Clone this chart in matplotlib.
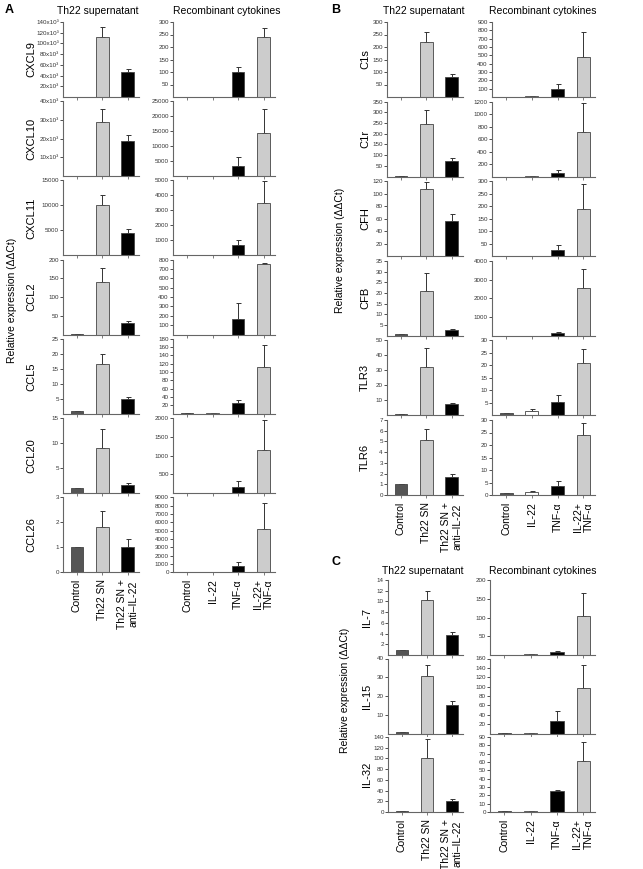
import matplotlib
matplotlib.use("Agg")
import matplotlib.pyplot as plt
from matplotlib.ticker import FuncFormatter

plt.rcParams['font.family'] = ['Liberation Sans', 'DejaVu Sans']

# categories
sn_labels = ["Control", "Th22 SN", "Th22 SN +\nanti\u2013IL-22"]
rec_labels = ["Control", "IL-22", "TNF-\u03b1", "IL-22+\nTNF-\u03b1"]
sn_colors = ["#555555", "#cccccc", "#000000"]
rec_colors = ["#555555", "#ffffff", "#000000", "#cccccc"]

# panel A
a_genes = ["CXCL9", "CXCL10", "CXCL11", "CCL2", "CCL5", "CCL20", "CCL26"]
a_sn_mean = [[1, 112000, 46000], [1, 29000, 19000], [1, 10100, 4400], [1, 141, 32],
             [1, 16.5, 4.8], [1, 9, 1.7], [1, 1.8, 1.0]]
a_sn_err = [[0, 18000, 7000], [0, 7000, 3000], [0, 1900, 800], [0, 36, 3],
            [0, 3.5, 0.7], [0, 3.8, 0.3], [0, 0.65, 0.32]]
a_sn_ymax = [140000, 40000, 15000, 200, 25, 15, 3]
a_sn_step = [20000, 10000, 5000, 50, 5, 5, 1]
a_rec_mean = [[1, 1, 100, 240], [1, 1, 3500, 14500], [1, 1, 700, 3500], [1, 1, 165, 756],
              [1, 2, 26, 113], [1, 1, 160, 1135], [1, 1, 700, 5200]]
a_rec_err = [[0, 0, 22, 38], [0, 0, 3000, 7800], [0, 0, 340, 1440], [0, 0, 175, 11],
             [0, 0, 7, 52], [0, 0, 165, 810], [0, 0, 500, 3100]]
a_rec_ymax = [300, 25000, 5000, 800, 180, 2000, 9000]
a_rec_step = [50, 5000, 1000, 100, 20, 500, 1000]

# panel B
b_genes = ["C1s", "C1r", "CFH", "CFB", "TLR3", "TLR6"]
b_sn_mean = [[2, 220, 80], [2, 245, 75], [1, 107, 57], [1, 21, 2.8], [1, 32.5, 7.5], [1, 5.15, 1.65]]
b_sn_err = [[0, 42, 12], [0, 65, 10], [0, 12, 11], [0, 8.5, 0.3], [0, 12.5, 1.0], [0, 1.0, 0.3]]
b_sn_ymax = [300, 350, 120, 35, 50, 7]
b_sn_step = [50, 50, 20, 5, 10, 1]
b_rec_mean = [[1, 15, 96, 480], [1, 5, 50, 720], [1, 1, 24, 187], [1, 1, 160, 2550],
              [0.8, 1.6, 5.3, 21.1], [1, 1.3, 3.5, 24]]
b_rec_err = [[0, 0, 60, 300], [0, 0, 60, 450], [0, 0, 21, 101], [0, 0, 60, 1000],
             [0, 0.8, 2.8, 5.3], [0, 0.5, 2.2, 5]]
b_rec_ymax = [900, 1200, 300, 4000, 30, 30]
b_rec_step = [100, 200, 50, 1000, 5, 5]

# panel C
c_genes = ["IL-7", "IL-15", "IL-32"]
c_sn_mean = [[1, 10.2, 3.8], [1, 30.5, 15.3], [1, 101, 21]]
c_sn_err = [[0, 1.7, 0.5], [0, 6, 1.9], [0, 36, 4]]
c_sn_ymax = [14, 40, 140]
c_sn_step = [2, 10, 20]
c_rec_mean = [[1, 3, 8, 105], [1, 1.5, 27, 97], [1, 1, 25, 61]]
c_rec_err = [[0, 1, 4, 60], [0, 0, 20, 50], [0, 0, 1, 23]]
c_rec_ymax = [200, 160, 90]
c_rec_step = [50, 20, 10]

W, H = 643, 869
fig = plt.figure(figsize=(W / 100, H / 100), dpi=100)


def box(x0, x1, y0, y1):
    return [x0 / W, 1 - y1 / H, (x1 - x0) / W, (y1 - y0) / H]


def kfmt(v, pos):
    return "%dx10\u00b3" % round(v / 1000)


def draw(ax, means, errs, colors, labels, ymax, step, last, kilo=False):
    x = list(range(len(means)))
    ax.bar(x, means, width=0.5, color=colors, edgecolor="#444444", linewidth=0.6, zorder=2)
    ax.errorbar(x, means, yerr=[[0] * len(errs), errs], fmt="none", ecolor="#333333",
                elinewidth=0.7, capsize=1.8, capthick=0.7, zorder=1)
    ax.set_xlim(-0.55, len(means) - 0.55)
    ax.set_ylim(0, ymax)
    n = int(round(ymax / step))
    start = 0 if last else 1
    ax.set_yticks([step * i for i in range(start, n + 1)])
    if kilo:
        ax.yaxis.set_major_formatter(FuncFormatter(kfmt))
    ax.set_xticks(x)
    if last:
        ax.set_xticklabels(labels, rotation=90, fontsize=7.5, va="top", ha="center")
    else:
        ax.set_xticklabels([])
    for s in ["top", "right"]:
        ax.spines[s].set_visible(False)
    for s in ["left", "bottom"]:
        ax.spines[s].set_color("#666666")
        ax.spines[s].set_linewidth(0.8)
    ax.tick_params(axis="y", labelsize=4.5, length=2, width=0.6, pad=1, colors="#333333")
    ax.tick_params(axis="x", length=2, width=0.6, pad=3, colors="#666666", labelcolor="black")


def panel(genes, smean, serr, symax, sstep, rmean, rerr, rymax, rstep,
          top0, pitch, h, lx, rx, glx, kilo_rows=()):
    for i, g in enumerate(genes):
        t = top0 + i * pitch
        last = i == len(genes) - 1
        ax = fig.add_axes(box(lx[0], lx[1], t, t + h))
        draw(ax, smean[i], serr[i], sn_colors, sn_labels, symax[i], sstep[i], last, i in kilo_rows)
        fig.text(glx / W, 1 - (t + h / 2) / H, g, rotation=90, fontsize=8,
                 ha="center", va="center")
        ax = fig.add_axes(box(rx[0], rx[1], t, t + h))
        draw(ax, rmean[i], rerr[i], rec_colors, rec_labels, rymax[i], rstep[i], last)


panel(a_genes, a_sn_mean, a_sn_err, a_sn_ymax, a_sn_step,
      a_rec_mean, a_rec_err, a_rec_ymax, a_rec_step,
      22, 79.2, 75, (63, 139), (173, 275), 31, kilo_rows=(0, 1))
panel(b_genes, b_sn_mean, b_sn_err, b_sn_ymax, b_sn_step,
      b_rec_mean, b_rec_err, b_rec_ymax, b_rec_step,
      22, 79.6, 75, (387, 463), (492, 595), 365)
panel(c_genes, c_sn_mean, c_sn_err, c_sn_ymax, c_sn_step,
      c_rec_mean, c_rec_err, c_rec_ymax, c_rec_step,
      580, 78.5, 75, (388, 463), (490, 595), 367)

# titles and letters
for (x, y, s) in [(98, 11, "Th22 supernatant"), (227, 11, "Recombinant cytokines"),
                  (424, 11, "Th22 supernatant"), (543, 11, "Recombinant cytokines"),
                  (423, 571, "Th22 supernatant"), (543, 571, "Recombinant cytokines")]:
    fig.text(x / W, 1 - y / H, s, fontsize=7.5, ha="center", va="center")
for (x, y, s) in [(9, 10, "A"), (336, 10, "B"), (336, 562, "C")]:
    fig.text(x / W, 1 - y / H, s, fontsize=9, fontweight="bold", ha="center", va="center")
for (x, y) in [(12, 300), (340, 250), (345, 690)]:
    fig.text(x / W, 1 - y / H, "Relative expression (\u0394\u0394Ct)", rotation=90,
             fontsize=7.5, ha="center", va="center")

fig.savefig("out.png", dpi=100)
